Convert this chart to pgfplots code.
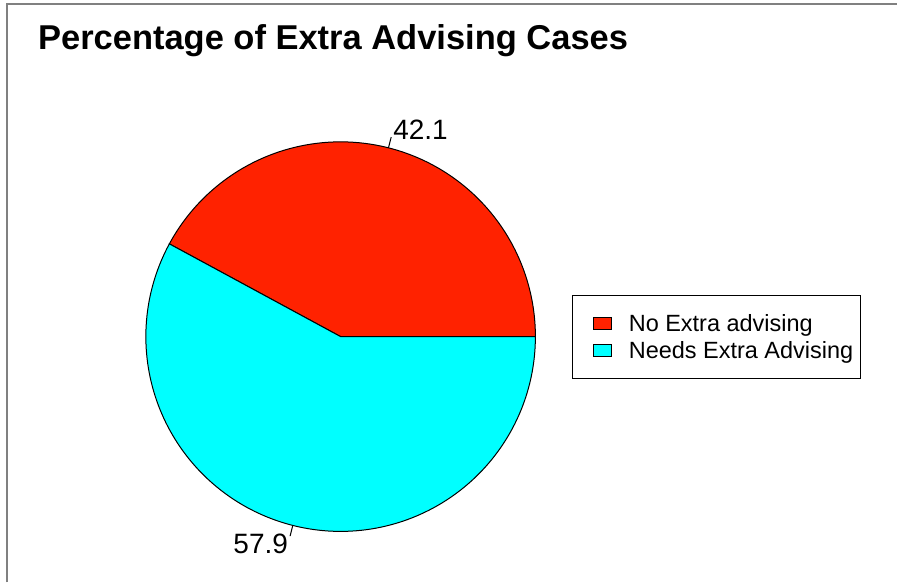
\documentclass[border=0pt]{standalone}
\usepackage{pgfplots}
\pgfplotsset{compat=1.18}
\usepackage{pgfplotstable}
\usepackage{fontspec}
\setmainfont{Liberation Sans}
\definecolor{pieRed}{RGB}{255,34,0}
\definecolor{pieCyan}{RGB}{0,255,255}
\pgfplotstableread{
label value
No 42.1
Needs 57.9
}\piedata
\begin{document}
\begin{tikzpicture}
\pgfplotstablegetelem{0}{value}\of\piedata \let\va\pgfplotsretval
\pgfplotstablegetelem{1}{value}\of\piedata \let\vb\pgfplotsretval
\pgfmathsetmacro\angA{3.6*\va}
\pgfmathsetmacro\midA{\angA/2}
\pgfmathsetmacro\midB{\angA+1.8*\vb}
\begin{axis}[
  width=898pt, height=583pt, scale only axis,
  xmin=0, xmax=898, ymin=0, ymax=583,
  axis lines=none, clip=false,
  legend cell align=left,
  legend image code/.code={\path[draw=none, fill=none] (-16pt,0pt) -- (33pt,0pt); \draw[#1, draw=black, line width=0.8pt] (0pt,-6.5pt) rectangle (18pt,6.5pt);},
  legend style={at={(axis cs:573,288)}, anchor=north west, draw=black, line width=1pt,
    font=\fontsize{23.5}{28}\selectfont, inner xsep=5pt, inner ysep=17pt, row sep=4.5pt},
]
\fill[white] (axis cs:0,0) rectangle (axis cs:898,583);
\draw[gray, line width=2pt] (axis cs:7,0) -- (axis cs:7,579) -- (axis cs:898,579);
\addplot[fill=pieRed, draw=black, line width=1pt, samples=150, domain=0:\angA, variable=\t]
  ({341+195*cos(\t)},{246+195*sin(\t)}) -- (axis cs:341,246) -- cycle;
\addlegendentry{No Extra advising}
\addplot[fill=pieCyan, draw=black, line width=1pt, samples=150, domain=\angA:360, variable=\t]
  ({341+195*cos(\t)},{246+195*sin(\t)}) -- (axis cs:341,246) -- cycle;
\addlegendentry{Needs Extra Advising}
\draw[line width=1pt] (axis cs:{341+195*cos(\midA)},{246+195*sin(\midA)}) -- (axis cs:{341+206*cos(\midA)},{246+206*sin(\midA)});
\draw[line width=1pt] (axis cs:{341+195*cos(\midB)},{246+195*sin(\midB)}) -- (axis cs:{341+206*cos(\midB)},{246+206*sin(\midB)});
\node[anchor=west, inner sep=0pt, font=\fontsize{28}{34}\selectfont] at (axis cs:{341+214*cos(\midA)},{246+214*sin(\midA)}) {\va};
\node[anchor=east, inner sep=0pt, font=\fontsize{28}{34}\selectfont] at (axis cs:{341+214*cos(\midB)},{246+214*sin(\midB)}) {\vb};
\node[anchor=base west, inner sep=0pt, font=\fontsize{34.5}{40}\selectfont\bfseries] at (axis cs:38,533) {Percentage of Extra Advising Cases};
\end{axis}
\end{tikzpicture}
\end{document}
